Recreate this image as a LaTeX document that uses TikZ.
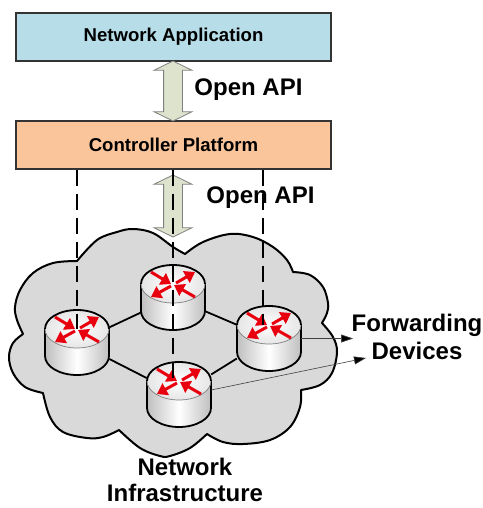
\documentclass[tikz,border=0pt]{standalone}
\usepackage{fontspec}
\setmainfont{Liberation Sans}
\usetikzlibrary{arrows.meta,shapes.arrows}
\definecolor{appblue}{RGB}{183,221,232}
\definecolor{ctrlorange}{RGB}{250,197,155}
\definecolor{apigreen}{RGB}{221,227,204}
\definecolor{cloudgray}{RGB}{217,217,217}
\definecolor{arrowred}{RGB}{232,0,15}
\tikzset{
    every node/.style={font=\fontsize{24}{28.5}\selectfont\bfseries, inner sep=0pt},
    layerbox/.style={draw=black!80, line width=1.2pt, minimum width=315pt, minimum height=48pt, font=\fontsize{18.6}{22}\selectfont\bfseries},
    apiarrow/.style={draw=black!50, fill=apigreen, line width=0.8pt, double arrow, shape border rotate=90, minimum width=37pt, minimum height=60pt, double arrow head extend=9.5pt, double arrow tip angle=128, inner sep=0pt, text width=18pt},
    routerbox/.style={minimum width=64pt, minimum height=64pt},
    link/.style={line width=1.8pt},
    droplink/.style={line width=1.6pt, dash pattern=on 16pt off 8pt},
    pointer/.style={draw=black!75, line width=0.6pt, -{Triangle[length=12pt,width=8pt,fill=black]}},
    redarrow/.style={draw=arrowred, line width=3pt, -{Triangle[length=10pt,width=13pt]}},
    lobe/.style={smooth, tension=0.6},
    router/.pic={
        \path[left color=gray!50, right color=gray!50, middle color=white] (-32,-13.5) -- (-32,13.5) arc[start angle=180, end angle=360, x radius=32pt, y radius=19pt] -- (32,-13.5) -- cycle;
        \draw[line width=1.8pt] (-32,-13.5) -- (-32,13.5) arc[start angle=180, end angle=360, x radius=32pt, y radius=19pt] -- (32,-13.5);
        \path[inner color=white, outer color=gray!20] (0,-13.5) ellipse[x radius=32pt, y radius=19pt];
        \draw[draw=black!50, line width=0.7pt] (0,-13.5) ellipse[x radius=32pt, y radius=19pt];
        \draw[line width=1.8pt] (-32,-13.5) arc[start angle=180, end angle=0, x radius=32pt, y radius=19pt];
        \draw[redarrow] (-22,-25.5) -- (-2,-13.5);
        \draw[redarrow] (22,-0.5) -- (1,-12.5);
        \draw[redarrow] (3,-14.5) -- (22,-25.5);
        \draw[redarrow] (-2,-11.5) -- (-22,-0.5);
    }
}
\begin{document}
\begin{tikzpicture}[x=1pt, y=-1pt]
    \useasboundingbox (0,0) rectangle (482,508);

    \draw[fill=cloudgray, line width=2pt, line join=round] (77,261)
        -- plot[lobe] coordinates {(77,261) (97,240) (117,232) (133,229) (153,233) (173,247) (185,254)}
        -- plot[lobe] coordinates {(185,254) (203,242) (230,234) (253,237) (273,247) (287,260) (293,272)}
        -- plot[lobe] coordinates {(293,272) (310,275) (323,287) (328,303) (327,313) (322,323)}
        -- plot[lobe] coordinates {(322,323) (333,337) (337,352) (332,373) (320,385) (301,390)}
        -- plot[lobe] coordinates {(301,390) (300,407) (290,427) (270,440) (243,444) (223,442) (207,434)}
        -- plot[lobe] coordinates {(207,434) (190,448) (170,456) (160,456) (140,448) (119,430)}
        -- plot[lobe] coordinates {(119,430) (103,437) (87,438) (63,432) (50,417) (43,393)}
        -- plot[lobe] coordinates {(43,393) (25,387) (13,373) (9,357) (13,343) (23,334)}
        -- plot[lobe] coordinates {(23,334) (17,320) (15,307) (20,290) (33,273) (53,263) (77,261)}
        -- cycle;

    \node[layerbox, fill=appblue] (app) at (173.5,37) {Network Application};
    \node[layerbox, fill=ctrlorange] (ctrl) at (173.5,145) {Controller Platform};
    \node[apiarrow] (northapi) at (173,91) {};
    \node[apiarrow, minimum height=62pt] (southapi) at (173,206) {};
    \node (northlabel) at (248.5,90) {Open API};
    \node (southlabel) at (260.5,198) {Open API};

    \foreach \name/\pos in {r1/{77,342.5}, r2/{173,297.5}, r3/{269,338.5}, r4/{179,394.5}}
        \node[routerbox] (\name) at (\pos) {};

    \draw[link] (r1) -- (r2);
    \draw[link] (r2) -- (r3);
    \draw[link] (r1) -- (r4);
    \draw[link] (r3) -- (r4);

    \foreach \name in {r1,r2,r3,r4}
        \pic at (\name) {router};

    \coordinate (d1) at (77,329);
    \coordinate (d2) at (173,381);
    \coordinate (d3) at (263,325);
    \draw[droplink] (ctrl.south -| d1) -- (d1);
    \draw[droplink] (ctrl.south -| d2) -- (d2);
    \draw[droplink] (ctrl.south -| d3) -- (d3);

    \node[align=center] (fwd) at (417,337) {Forwarding\\Devices};
    \node[align=center, font=\fontsize{24}{26}\selectfont\bfseries] (infra) at (185,480) {Network\\Infrastructure};
    \coordinate (fwdtop) at (353,338.5);
    \coordinate (fwdlow) at (366,358);
    \draw[pointer] (r3.east) -- (fwdtop);
    \draw[pointer] ([yshift=4.5pt]r4.east) -- (fwdlow);
\end{tikzpicture}
\end{document}
